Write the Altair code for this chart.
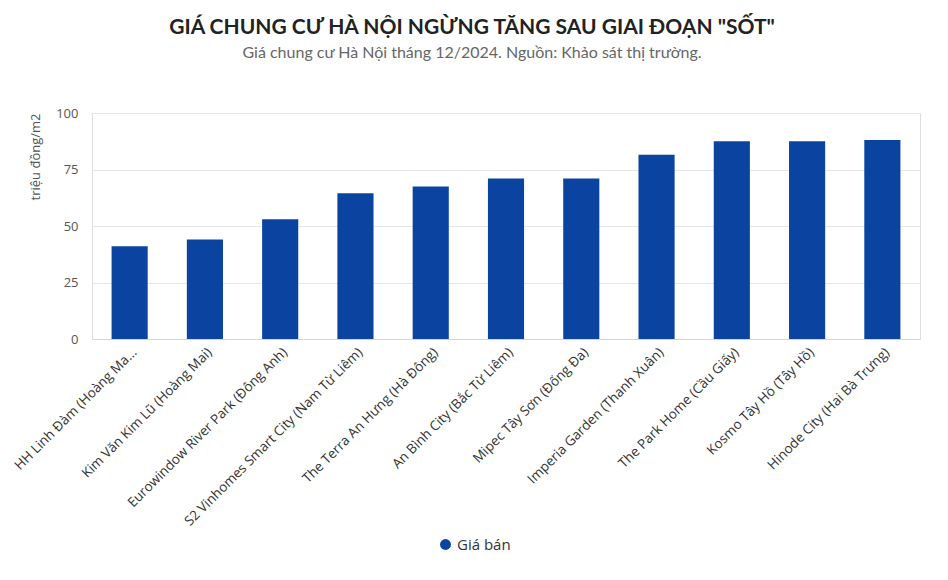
import altair as alt
import pandas as pd

categories = [
    "HH Linh Đàm (Hoàng Mai)",
    "Kim Văn Kim Lũ (Hoàng Mai)",
    "Eurowindow River Park (Đông Anh)",
    "S2 Vinhomes Smart City (Nam Từ Liêm)",
    "The Terra An Hưng (Hà Đông)",
    "An Bình City (Bắc Từ Liêm)",
    "Mipec Tây Sơn (Đống Đa)",
    "Imperia Garden (Thanh Xuân)",
    "The Park Home (Cầu Giấy)",
    "Kosmo Tây Hồ (Tây Hồ)",
    "Hinode City (Hai Bà Trưng)",
]
values = [41, 44, 53, 64.5, 67.5, 71, 71, 81.5, 87.5, 87.5, 88]
series_name = "Giá bán"

df = pd.DataFrame({"duan": categories, "gia": values, "series": [series_name] * len(values)})

FONT = "Lato"
LFONT = "Open Sans"
BLUE = "#0b44a0"

chart = (
    alt.Chart(df)
    .mark_bar(color=BLUE)
    .encode(
        x=alt.X(
            "duan:N",
            sort=categories,
            title=None,
            scale=alt.Scale(paddingInner=0.52, paddingOuter=0.26),
            axis=alt.Axis(
                labelAngle=315,
                labelFontSize=13.5,
                labelColor="#333333",
                labelFont=LFONT,
                labelLimit=300,
                labelPadding=6,
                ticks=False,
                domainColor="#ccd6eb",
                domainWidth=1,
                labelExpr="datum.label == 'HH Linh Đàm (Hoàng Mai)' ? 'HH Linh Đàm (Hoàng Ma...' : datum.label",
            ),
        ),
        y=alt.Y(
            "gia:Q",
            title="triệu đồng/m2",
            scale=alt.Scale(domain=[0, 100], nice=False),
            axis=alt.Axis(
                values=[0, 25, 50, 75, 100],
                labelFontSize=13,
                labelColor="#555555",
                labelFont=LFONT,
                labelPadding=14,
                ticks=False,
                domain=False,
                gridColor="#e6e6e6",
                titleFont=LFONT,
                titleFontSize=13,
                titleFontWeight="normal",
                titleColor="#555555",
                titleAnchor="end",
                titlePadding=13,
            ),
        ),
        color=alt.Color(
            "series:N",
            scale=alt.Scale(range=[BLUE]),
            legend=alt.Legend(
                title=None,
                orient="none",
                legendX=346,
                legendY=424,
                symbolType="circle",
                symbolSize=120,
                labelFontSize=15,
                labelFont=LFONT,
                labelColor="#333333",
            ),
        ),
    )
    .properties(
        width=828,
        height=226,
        autosize=alt.AutoSizeParams(type="none"),
        padding={"left": 84, "top": 105, "right": 16, "bottom": 232},
        title=alt.TitleParams(
            text='GIÁ CHUNG CƯ HÀ NỘI NGỪNG TĂNG SAU GIAI ĐOẠN "SỐT"',
            subtitle="Giá chung cư Hà Nội tháng 12/2024. Nguồn: Khảo sát thị trường.",
            font=FONT,
            fontSize=21,
            fontWeight="bold",
            color="#222222",
            subtitleFont=FONT,
            subtitleFontSize=16,
            subtitleColor="#666666",
            subtitlePadding=7,
            anchor="middle",
            dx=-34,
            offset=46,
        ),
    )
    .configure_view(stroke=None)
    .configure(background="white")
)

chart.save("out.html", embed_options={"renderer": "svg", "actions": False})
